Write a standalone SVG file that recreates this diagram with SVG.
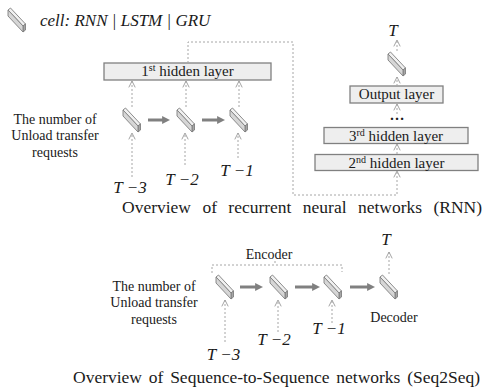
<svg xmlns="http://www.w3.org/2000/svg" width="484" height="391" viewBox="0 0 484 391">
<style>
text{font-family:'Liberation Serif','Times New Roman','DejaVu Serif',serif;fill:#1a1a1a}
.lbl{font-size:14px}
.bx{font-size:15px}
.it{font-size:17px;font-style:italic}
.cap{font-size:17.5px}
.box{fill:#eeeeee;stroke:#808080;stroke-width:1.3}
.dash{fill:none;stroke:#a6a6a6;stroke-width:1;stroke-dasharray:2 2}
.thick{stroke:#808080;stroke-width:3;fill:none}
</style>
<defs>
<g id="cellshape">
<polygon points="0,2 2.5,0 17.5,16 15,18" fill="#f0f0f0" stroke="#7f7f7f" stroke-width="0.9"/>
<polygon points="15,18 17.5,16 17.5,22 15,24" fill="#a6a6a6" stroke="#7f7f7f" stroke-width="0.9"/>
<polygon points="0,2 15,18 15,24 0,8" fill="#d6d6d6" stroke="#7f7f7f" stroke-width="0.9"/>
</g>
<marker id="chev" viewBox="0 0 10 10" refX="9" refY="5" markerWidth="8" markerHeight="8" markerUnits="userSpaceOnUse" orient="auto">
<path d="M1,1 L9,5 L1,9" fill="none" stroke="#a0a0a0" stroke-width="1.2"/>
</marker>
<marker id="solid" viewBox="0 0 10 10" refX="3" refY="5" markerWidth="8" markerHeight="8" markerUnits="userSpaceOnUse" orient="auto">
<path d="M0,0 L10,5 L0,10 Z" fill="#808080"/>
</marker>
</defs>

<g id="legend">
<use href="#cellshape" x="8" y="8"/>
<text class="it" x="40" y="26" font-size="16">cell: RNN | LSTM | GRU</text>
</g>

<g id="rnn-input-label">
<text class="lbl" text-anchor="middle" x="55" y="123.5">The number of</text>
<text class="lbl" text-anchor="middle" x="55" y="140">Unload transfer</text>
<text class="lbl" text-anchor="middle" x="55" y="156.5">requests</text>
</g>
<g id="hidden1">
<rect class="box" x="104" y="63" width="167" height="17"/>
<text class="bx" text-anchor="middle" x="187.5" y="76">1<tspan font-size="10" dy="-5">st</tspan><tspan dy="5"> hidden layer</tspan></text>
</g>
<g id="rnn-cell1"><use href="#cellshape" x="123" y="108"/></g>
<g id="rnn-cell2"><use href="#cellshape" x="177" y="108"/></g>
<g id="rnn-cell3"><use href="#cellshape" x="230" y="108"/></g>
<g id="rnn-t3"><text class="it" text-anchor="middle" x="130" y="193">T −3</text></g>
<g id="rnn-t2"><text class="it" text-anchor="middle" x="182" y="185">T −2</text></g>
<g id="rnn-t1"><text class="it" text-anchor="middle" x="237" y="176">T −1</text></g>

<g id="hidden2">
<rect class="box" x="315" y="154.5" width="163" height="16"/>
<text class="bx" text-anchor="middle" x="396.5" y="167.5">2<tspan font-size="10" dy="-5">nd</tspan><tspan dy="5"> hidden layer</tspan></text>
</g>
<g id="hidden3">
<rect class="box" x="324" y="127.5" width="144" height="16"/>
<text class="bx" text-anchor="middle" x="396" y="140.5">3<tspan font-size="10" dy="-5">rd</tspan><tspan dy="5"> hidden layer</tspan></text>
</g>
<g id="dots"><text class="bx" text-anchor="middle" x="397" y="120" font-weight="bold">…</text></g>
<g id="output-layer">
<rect class="box" x="350" y="86" width="93" height="17"/>
<text class="bx" text-anchor="middle" x="396.5" y="99">Output layer</text>
</g>
<g id="rnn-out-cell"><use href="#cellshape" x="388" y="52"/></g>
<g id="rnn-T"><text class="it" text-anchor="middle" x="393" y="36">T</text></g>
<g id="rnn-caption"><text class="cap" x="122" y="213" word-spacing="7">Overview of recurrent neural networks (RNN)</text></g>

<g id="s2s-input-label">
<text class="lbl" text-anchor="middle" x="154" y="290.5">The number of</text>
<text class="lbl" text-anchor="middle" x="154" y="307">Unload transfer</text>
<text class="lbl" text-anchor="middle" x="154" y="323.5">requests</text>
</g>
<g id="encoder-label"><text class="lbl" text-anchor="middle" x="269" y="259" font-size="13">Encoder</text></g>
<g id="s2s-cell1"><use href="#cellshape" x="216" y="275"/></g>
<g id="s2s-cell2"><use href="#cellshape" x="270" y="275"/></g>
<g id="s2s-cell3"><use href="#cellshape" x="324" y="275"/></g>
<g id="s2s-decoder-cell"><use href="#cellshape" x="380" y="275"/></g>
<g id="decoder-label"><text class="lbl" text-anchor="middle" x="394" y="322">Decoder</text></g>
<g id="s2s-T"><text class="it" text-anchor="middle" x="386" y="245">T</text></g>
<g id="s2s-t3"><text class="it" text-anchor="middle" x="223.5" y="360">T −3</text></g>
<g id="s2s-t2"><text class="it" text-anchor="middle" x="274" y="345">T −2</text></g>
<g id="s2s-t1"><text class="it" text-anchor="middle" x="329" y="334">T −1</text></g>
<g id="s2s-caption"><text class="cap" x="73" y="383" word-spacing="2.4">Overview of Sequence-to-Sequence networks (Seq2Seq)</text></g>

<g id="connectors">
<line class="dash" x1="132" y1="107" x2="132" y2="81" marker-end="url(#chev)"/>
<line class="dash" x1="186" y1="107" x2="186" y2="81" marker-end="url(#chev)"/>
<line class="dash" x1="239" y1="107" x2="239" y2="81" marker-end="url(#chev)"/>
<line class="dash" x1="132" y1="177" x2="132" y2="133" marker-end="url(#chev)"/>
<line class="dash" x1="185" y1="165" x2="185" y2="133" marker-end="url(#chev)"/>
<line class="dash" x1="238" y1="158" x2="238" y2="133" marker-end="url(#chev)"/>
<line class="thick" x1="148" y1="120" x2="164.5" y2="120" marker-end="url(#solid)"/>
<line class="thick" x1="202" y1="120" x2="219.5" y2="120" marker-end="url(#solid)"/>
<path class="dash" d="M188,63 V42 H293 V195 H397 V171" marker-end="url(#chev)"/>
<line class="dash" x1="397" y1="154" x2="397" y2="144" marker-end="url(#chev)"/>
<line class="dash" x1="397" y1="114" x2="397" y2="104" marker-end="url(#chev)"/>
<line class="dash" x1="397" y1="86" x2="397" y2="77" marker-end="url(#chev)"/>
<line class="dash" x1="397" y1="51" x2="397" y2="40" marker-end="url(#chev)"/>
<path class="dash" d="M212,273 V265 H342 V272"/>
<line class="dash" x1="275" y1="261" x2="275" y2="265"/>
<line class="thick" x1="240" y1="287" x2="257.5" y2="287" marker-end="url(#solid)"/>
<line class="thick" x1="295" y1="287" x2="314.5" y2="287" marker-end="url(#solid)"/>
<line class="thick" x1="350" y1="287" x2="369.5" y2="287" marker-end="url(#solid)"/>
<line class="dash" x1="225" y1="342" x2="225" y2="300" marker-end="url(#chev)"/>
<line class="dash" x1="278" y1="332" x2="278" y2="300" marker-end="url(#chev)"/>
<line class="dash" x1="332" y1="323" x2="332" y2="300" marker-end="url(#chev)"/>
<line class="dash" x1="389" y1="274" x2="389" y2="252" marker-end="url(#chev)"/>
</g>
</svg>
